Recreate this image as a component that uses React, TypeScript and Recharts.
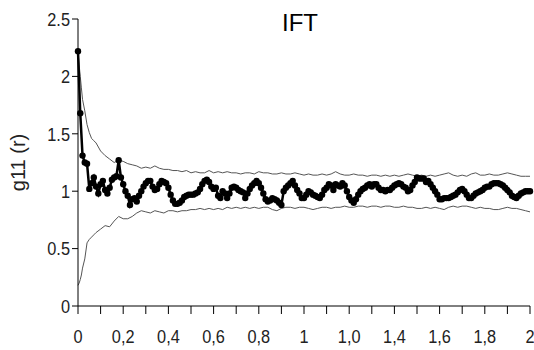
import React from "react";
import { LineChart, Line, XAxis, YAxis } from "recharts";

const mainY: number[] = [
  2.22, 1.68, 1.31, 1.25, 1.24, 1.02, 1.07, 1.12, 1.04, 0.98,
  1.06, 1.09, 1.01, 0.98, 1.03, 1.10, 1.12, 1.13, 1.27, 1.12,
  1.06, 1.00, 0.96, 0.88, 0.93, 0.94, 0.91, 0.96, 1.00, 1.04,
  1.07, 1.09, 1.09, 1.04, 1.01, 1.02, 1.06, 1.09, 1.08, 1.07,
  1.03, 0.97, 0.92, 0.89, 0.89, 0.90, 0.92, 0.95, 0.96, 0.97,
  0.97, 0.97, 0.98, 0.99, 1.02, 1.06, 1.09, 1.10, 1.08, 1.04,
  1.02, 1.03, 0.96, 0.94, 1.00, 0.98, 0.94, 0.98, 1.03, 1.04,
  1.03, 1.01, 1.00, 0.99, 0.94, 0.98, 1.02, 1.05, 1.07, 1.09,
  1.07, 1.03, 0.98, 0.93, 0.91, 0.92, 0.94, 0.93, 0.92, 0.90,
  0.88, 1.00, 1.03, 1.05, 1.07, 1.09, 1.05, 1.01, 0.98, 0.94,
  0.94, 0.97, 1.00, 0.99, 0.97, 0.96, 0.95, 0.94, 0.97, 1.01,
  1.03, 1.06, 1.05, 1.01, 1.06, 1.05, 1.04, 1.07, 1.05, 1.00,
  0.95, 0.92, 0.90, 0.93, 0.97, 1.00, 1.02, 1.03, 1.05, 1.06,
  1.04, 1.06, 1.06, 1.03, 1.01, 1.01, 1.00, 1.01, 1.01, 1.03,
  1.05, 1.06, 1.07, 1.06, 1.04, 1.03, 1.00, 1.01, 1.05, 1.08,
  1.12, 1.11, 1.11, 1.11, 1.08, 1.09, 1.06, 1.03, 1.00, 0.97,
  0.93, 0.93, 0.94, 0.94, 0.94, 0.95, 0.96, 0.97, 0.99, 1.01,
  1.02, 1.00, 0.97, 0.94, 0.94, 0.96, 0.98, 0.99, 1.00, 1.01,
  1.03, 1.04, 1.04, 1.06, 1.07, 1.07, 1.07, 1.06, 1.05, 1.03,
  1.01, 0.99, 0.96, 0.95, 0.94, 0.96, 0.98, 0.99, 1.00, 1.00,
  1.00,
];

const envX: number[] = [
  0, 0.005, 0.01, 0.015, 0.02, 0.03, 0.04, 0.05, 0.06, 0.07, 0.08,
  0.10, 0.12, 0.14, 0.16, 0.18, 0.20, 0.22, 0.24, 0.26, 0.28,
  0.30, 0.32, 0.34, 0.36, 0.38, 0.40, 0.42, 0.44, 0.46, 0.48,
  0.50, 0.52, 0.54, 0.56, 0.58, 0.60, 0.62, 0.64, 0.66, 0.68,
  0.70, 0.72, 0.74, 0.76, 0.78, 0.80, 0.82, 0.84, 0.86, 0.88,
  0.90, 0.92, 0.94, 0.96, 0.98, 1.00, 1.02, 1.04, 1.06, 1.08,
  1.10, 1.12, 1.14, 1.16, 1.18, 1.20, 1.22, 1.24, 1.26, 1.28,
  1.30, 1.32, 1.34, 1.36, 1.38, 1.40, 1.42, 1.44, 1.46, 1.48,
  1.50, 1.52, 1.54, 1.56, 1.58, 1.60, 1.62, 1.64, 1.66, 1.68,
  1.70, 1.72, 1.74, 1.76, 1.78, 1.80, 1.82, 1.84, 1.86, 1.88,
  1.90, 1.92, 1.94, 1.96, 1.98, 2.00,
];

const upperY: number[] = [
  2.22, 2.10, 2.00, 1.90, 1.80, 1.70, 1.58, 1.51, 1.46, 1.44, 1.42,
  1.35, 1.31, 1.28, 1.25, 1.27, 1.26, 1.24, 1.23, 1.22, 1.20,
  1.21, 1.20, 1.22, 1.20, 1.19, 1.19, 1.18, 1.18, 1.17, 1.18,
  1.16, 1.17, 1.16, 1.16, 1.18, 1.16, 1.17, 1.16, 1.17, 1.16,
  1.16, 1.15, 1.16, 1.16, 1.15, 1.17, 1.16, 1.16, 1.15, 1.15,
  1.16, 1.15, 1.15, 1.16, 1.15, 1.14, 1.15, 1.14, 1.14, 1.15,
  1.14, 1.15, 1.17, 1.15, 1.14, 1.14, 1.15, 1.14, 1.14, 1.13,
  1.14, 1.14, 1.13, 1.14, 1.13, 1.14, 1.13, 1.14, 1.15, 1.14,
  1.13, 1.14, 1.13, 1.14, 1.13, 1.14, 1.15, 1.16, 1.14, 1.13,
  1.14, 1.13, 1.15, 1.16, 1.14, 1.14, 1.15, 1.14, 1.14, 1.15,
  1.16, 1.15, 1.14, 1.13, 1.13, 1.13,
];

const lowerY: number[] = [
  0.18, 0.20, 0.23, 0.27, 0.33, 0.41, 0.55, 0.58, 0.60, 0.62, 0.64,
  0.67, 0.70, 0.69, 0.74, 0.78, 0.76, 0.76, 0.78, 0.81, 0.83,
  0.82, 0.81, 0.83, 0.82, 0.81, 0.83, 0.83, 0.82, 0.83, 0.83,
  0.84, 0.84, 0.85, 0.84, 0.85, 0.84, 0.85, 0.84, 0.86, 0.85,
  0.86, 0.85, 0.86, 0.85, 0.86, 0.85, 0.86, 0.86, 0.84, 0.83,
  0.85, 0.86, 0.86, 0.85, 0.86, 0.86, 0.85, 0.84, 0.85, 0.86,
  0.86, 0.85, 0.86, 0.86, 0.87, 0.86, 0.86, 0.87, 0.87, 0.86,
  0.87, 0.87, 0.86, 0.87, 0.87, 0.86, 0.86, 0.87, 0.86, 0.86,
  0.85, 0.85, 0.86, 0.85, 0.86, 0.85, 0.84, 0.86, 0.87, 0.86,
  0.87, 0.87, 0.86, 0.85, 0.86, 0.85, 0.85, 0.84, 0.84, 0.85,
  0.86, 0.85, 0.85, 0.84, 0.83, 0.82,
];

const xTickValues: number[] = [
  0, 0.1, 0.2, 0.3, 0.4, 0.5, 0.6, 0.7, 0.8, 0.9, 1.0,
  1.1, 1.2, 1.3, 1.4, 1.5, 1.6, 1.7, 1.8, 1.9, 2.0,
];
const xTickLabels: string[] = [
  "0", "", "0,2", "", "0,4", "", "0,6", "", "0,8", "", "1",
  "", "1,0", "", "1,4", "", "1,6", "", "1,8", "", "2",
];
const yTickValues: number[] = [0, 0.5, 1, 1.5, 2, 2.5];
const yTickLabels: string[] = ["0", "0.5", "1", "1.5", "2", "2.5"];

const title = "IFT";
const yAxisTitle = "g11 (r)";

const mainData = mainY.map((y, i) => ({ x: i / 100, y }));
const upperData = envX.map((x, i) => ({ x, y: upperY[i] }));
const lowerData = envX.map((x, i) => ({ x, y: lowerY[i] }));

const FONT = "'Liberation Sans', Arial, sans-serif";
const TEXT_COLOR = "#222";
const SQUEEZE = 0.86;

function labelFor(values: number[], labels: string[], v: number): string {
  const idx = values.findIndex((t) => Math.abs(t - v) < 1e-6);
  return idx >= 0 ? labels[idx] : "";
}

function XTick(props: any) {
  const { x, y, payload } = props;
  const label = labelFor(xTickValues, xTickLabels, payload.value);
  if (!label) return null;
  return (
    <g transform={`translate(${x},${y})`}>
      <text
        transform={`scale(${SQUEEZE},1)`}
        textAnchor="middle"
        dy="0.75em"
        fontSize={19}
        fontFamily={FONT}
        fill={TEXT_COLOR}
      >
        {label}
      </text>
    </g>
  );
}

function YTick(props: any) {
  const { x, y, payload } = props;
  const label = labelFor(yTickValues, yTickLabels, payload.value);
  return (
    <g transform={`translate(${x},${y})`}>
      <text
        transform={`scale(${SQUEEZE},1)`}
        textAnchor="end"
        dy="0.36em"
        fontSize={19}
        fontFamily={FONT}
        fill={TEXT_COLOR}
      >
        {label}
      </text>
    </g>
  );
}

export default function App() {
  return (
    <div style={{ position: "absolute", left: 0, top: 0, width: 534, height: 350, background: "#fff" }}>
      <LineChart
        width={534}
        height={350}
        margin={{ top: 19, right: 4, bottom: 13, left: 0 }}
      >
        <text
          x={300}
          y={31}
          textAnchor="middle"
          style={{ fontFamily: FONT, fontSize: 24, fill: "#000" }}
        >
          {title}
        </text>
        <XAxis
          dataKey="x"
          type="number"
          domain={[0, 2]}
          ticks={xTickValues}
          interval={0}
          height={31}
          tickSize={8}
          tickMargin={15}
          axisLine={{ stroke: "#000", strokeWidth: 1 }}
          tickLine={{ stroke: "#000", strokeWidth: 1 }}
          tick={<XTick />}
          allowDuplicatedCategory={false}
        />
        <YAxis
          type="number"
          domain={[0, 2.5]}
          ticks={yTickValues}
          interval={0}
          width={78}
          tickSize={6}
          tickMargin={2}
          axisLine={{ stroke: "#000", strokeWidth: 1 }}
          tickLine={{ stroke: "#000", strokeWidth: 1 }}
          tick={<YTick />}
          label={{
            value: yAxisTitle,
            angle: -90,
            position: "insideLeft",
            offset: 18,
            style: { textAnchor: "middle", fontSize: 20, fontFamily: FONT, fill: TEXT_COLOR },
          }}
        />
        <Line
          data={upperData}
          dataKey="y"
          type="linear"
          stroke="#555"
          strokeWidth={1}
          dot={false}
          activeDot={false}
          isAnimationActive={false}
        />
        <Line
          data={lowerData}
          dataKey="y"
          type="linear"
          stroke="#555"
          strokeWidth={1}
          dot={false}
          activeDot={false}
          isAnimationActive={false}
        />
        <Line
          data={mainData}
          dataKey="y"
          type="linear"
          stroke="#000"
          strokeWidth={2.5}
          dot={{ r: 3.2, fill: "#000", stroke: "none" }}
          activeDot={false}
          isAnimationActive={false}
        />
      </LineChart>
    </div>
  );
}
